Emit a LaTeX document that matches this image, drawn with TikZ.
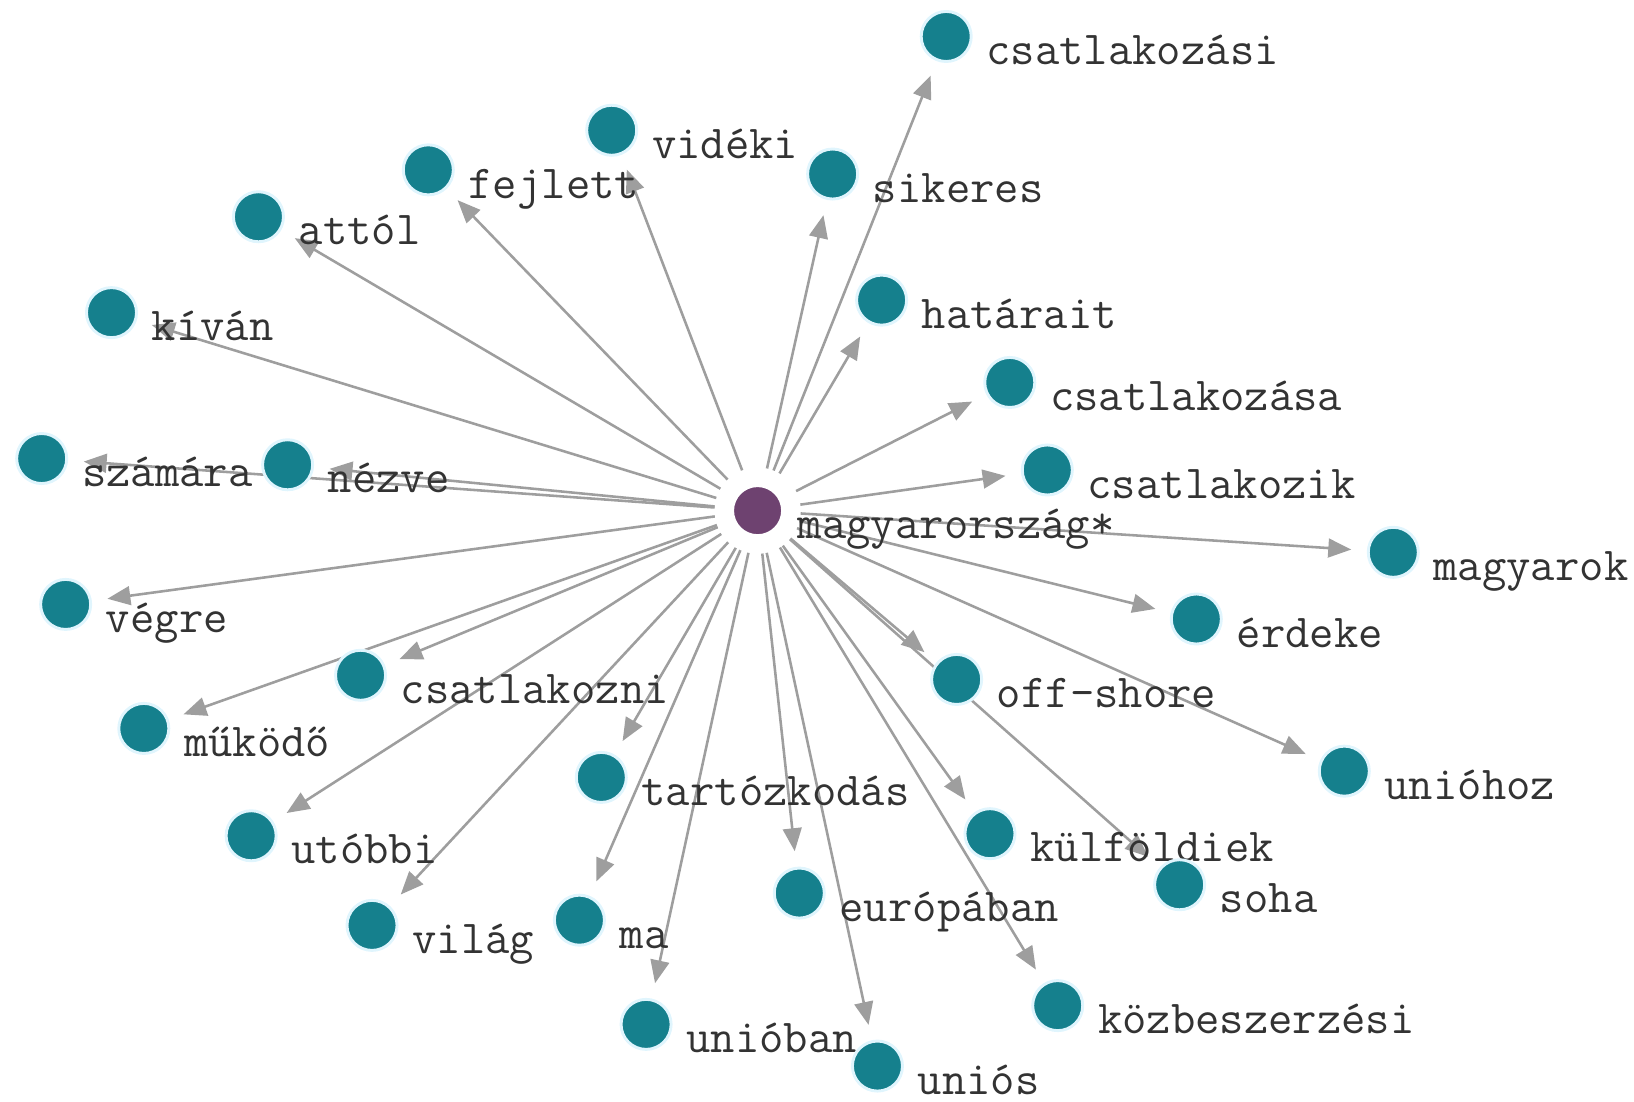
\documentclass[tikz,border=0pt]{standalone}
\usepackage{tikz}
\usetikzlibrary{arrows.meta, positioning, calc, backgrounds}
\definecolor{nodoteal}{RGB}{21,128,141}
\definecolor{nodolila}{RGB}{110,66,112}
\definecolor{elgray}{RGB}{158,158,158}

\begin{document}
\begin{tikzpicture}[x=0.01cm, y=-0.01cm,
    szo/.style={circle, fill=nodoteal, draw=cyan!12, line width=0.8pt, minimum size=0.48cm, inner sep=0pt},
    kozep/.style={szo, fill=nodolila, draw=white},
    cimke/.style={anchor=base west, inner sep=0pt, font=\fontsize{12.9}{14}\selectfont\ttfamily, text=black!80},
    el/.style={draw=elgray, line width=0.7pt, shorten <=0.16cm, shorten >=0.15cm, -{Triangle[length=0.22cm, width=0.18cm]}}]
    \useasboundingbox (0,0) rectangle (1568,1057);

    % Kozep
    \node[kozep] (mo) at (727,490) {};
    \node[cimke] (t-mo) at ($(mo)+(38,27)$) {magyarország*};

    % Szavak
    \node[szo] (csatlakozasi) at (908,35) {};    \node[cimke] (t-csatlakozasi) at ($(csatlakozasi)+(38,27)$) {csatlakozási};
    \node[szo] (videki) at (587,125) {};         \node[cimke] (t-videki) at ($(videki)+(38,27)$) {vidéki};
    \node[szo] (fejlett) at (411,163) {};        \node[cimke] (t-fejlett) at ($(fejlett)+(38,27)$) {fejlett};
    \node[szo] (sikeres) at (799,167) {};        \node[cimke] (t-sikeres) at ($(sikeres)+(38,27)$) {sikeres};
    \node[szo] (attol) at (248,208) {};          \node[cimke] (t-attol) at ($(attol)+(38,27)$) {attól};
    \node[szo] (hatarait) at (846,288) {};       \node[cimke] (t-hatarait) at ($(hatarait)+(38,27)$) {határait};
    \node[szo] (kivan) at (107,300) {};          \node[cimke] (t-kivan) at ($(kivan)+(38,27)$) {kíván};
    \node[szo] (csatlakozasa) at (969,367) {};   \node[cimke] (t-csatlakozasa) at ($(csatlakozasa)+(38,27)$) {csatlakozása};
    \node[szo] (szamara) at (40,440) {};         \node[cimke] (t-szamara) at ($(szamara)+(38,27)$) {számára};
    \node[szo] (nezve) at (276,446) {};          \node[cimke] (t-nezve) at ($(nezve)+(38,27)$) {nézve};
    \node[szo] (csatlakozik) at (1005,451) {};   \node[cimke] (t-csatlakozik) at ($(csatlakozik)+(38,27)$) {csatlakozik};
    \node[szo] (magyarok) at (1337,530) {};      \node[cimke] (t-magyarok) at ($(magyarok)+(38,27)$) {magyarok};
    \node[szo] (vegre) at (63,580) {};           \node[cimke] (t-vegre) at ($(vegre)+(38,27)$) {végre};
    \node[szo] (erdeke) at (1148,594) {};        \node[cimke] (t-erdeke) at ($(erdeke)+(38,27)$) {érdeke};
    \node[szo] (csatlakozni) at (346,648) {};    \node[cimke] (t-csatlakozni) at ($(csatlakozni)+(38,27)$) {csatlakozni};
    \node[szo] (offshore) at (918,652) {};       \node[cimke] (t-offshore) at ($(offshore)+(38,27)$) {off-shore};
    \node[szo] (mukodo) at (138,699) {};         \node[cimke] (t-mukodo) at ($(mukodo)+(38,27)$) {működő};
    \node[szo] (uniohoz) at (1290,740) {};       \node[cimke] (t-uniohoz) at ($(uniohoz)+(38,27)$) {unióhoz};
    \node[szo] (tartozkodas) at (577,746) {};    \node[cimke] (t-tartozkodas) at ($(tartozkodas)+(38,27)$) {tartózkodás};
    \node[szo] (kulfoldiek) at (950,800) {};     \node[cimke] (t-kulfoldiek) at ($(kulfoldiek)+(38,27)$) {külföldiek};
    \node[szo] (utobbi) at (241,802) {};         \node[cimke] (t-utobbi) at ($(utobbi)+(38,27)$) {utóbbi};
    \node[szo] (soha) at (1132,849) {};          \node[cimke] (t-soha) at ($(soha)+(38,27)$) {soha};
    \node[szo] (europaban) at (767,857) {};      \node[cimke] (t-europaban) at ($(europaban)+(38,27)$) {európában};
    \node[szo] (ma) at (556,883) {};             \node[cimke] (t-ma) at ($(ma)+(38,27)$) {ma};
    \node[szo] (vilag) at (357,888) {};          \node[cimke] (t-vilag) at ($(vilag)+(38,27)$) {világ};
    \node[szo] (kozbeszerzesi) at (1015,965) {}; \node[cimke] (t-kozbeszerzesi) at ($(kozbeszerzesi)+(38,27)$) {közbeszerzési};
    \node[szo] (unioban) at (620,983) {};        \node[cimke] (t-unioban) at ($(unioban)+(38,27)$) {unióban};
    \node[szo] (unios) at (842,1023) {};         \node[cimke] (t-unios) at ($(unios)+(38,27)$) {uniós};

    % Elek
    \begin{scope}[on background layer]
        \draw[el] (mo) -- (csatlakozasi);
        \draw[el] (mo) -- (videki);
        \draw[el] (mo) -- (fejlett);
        \draw[el] (mo) -- (sikeres);
        \draw[el] (mo) -- (attol);
        \draw[el] (mo) -- (hatarait);
        \draw[el] (mo) -- (kivan);
        \draw[el] (mo) -- (csatlakozasa);
        \draw[el] (mo) -- (szamara);
        \draw[el] (mo) -- (nezve);
        \draw[el] (mo) -- (csatlakozik);
        \draw[el] (mo) -- (magyarok);
        \draw[el] (mo) -- (vegre);
        \draw[el] (mo) -- (erdeke);
        \draw[el] (mo) -- (csatlakozni);
        \draw[el] (mo) -- (offshore);
        \draw[el] (mo) -- (mukodo);
        \draw[el] (mo) -- (uniohoz);
        \draw[el] (mo) -- (tartozkodas);
        \draw[el] (mo) -- (kulfoldiek);
        \draw[el] (mo) -- (utobbi);
        \draw[el] (mo) -- (soha);
        \draw[el] (mo) -- (europaban);
        \draw[el] (mo) -- (ma);
        \draw[el] (mo) -- (vilag);
        \draw[el] (mo) -- (kozbeszerzesi);
        \draw[el] (mo) -- (unioban);
        \draw[el] (mo) -- (unios);
    \end{scope}
\end{tikzpicture}
\end{document}
